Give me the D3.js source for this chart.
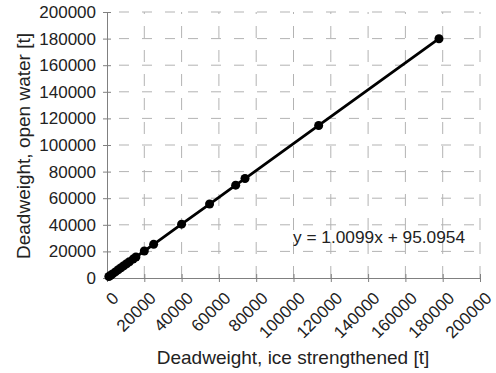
<!DOCTYPE html>
<html>
<head>
<meta charset="utf-8">
<script src="https://cdn.jsdelivr.net/npm/d3@7"></script>
<style>
  body { margin: 0; background: #fff; }
  text { font-family: "Liberation Sans", Arial, Helvetica, sans-serif; fill: #222; }
</style>
</head>
<body>
<div id="chart"></div>
<script>
'use strict';

// deadweight, ice strengthened [t]
var iceDwt = [1000, 2000, 3000, 4500, 6000, 7500, 9000, 10500, 12000, 14000, 15500,
              20000, 25000, 40000, 55000, 69000, 74000, 113500, 178000];
// deadweight, open water [t]
var openDwt = [1100, 2100, 3100, 4600, 6200, 7700, 9200, 10700, 12200, 14200, 15800,
               20300, 25300, 40500, 55600, 69800, 74800, 114700, 179900];

var xTicks = [0, 20000, 40000, 60000, 80000, 100000, 120000, 140000, 160000, 180000, 200000];
var yTicks = [0, 20000, 40000, 60000, 80000, 100000, 120000, 140000, 160000, 180000, 200000];
var equation = "y = 1.0099x + 95.0954";

var width = 496, height = 373;
var margin = {top: 12, right: 16, bottom: 95, left: 107};

var svg = d3.select("#chart").append("svg")
    .attr("width", width)
    .attr("height", height);

var x = d3.scaleLinear().domain([0, 200000]).range([margin.left, width - margin.right]);
var y = d3.scaleLinear().domain([0, 200000]).range([height - margin.bottom, margin.top]);

// dashed gridlines
svg.append("g").selectAll("line")
    .data(yTicks.slice(1))
  .enter().append("line")
    .attr("x1", x(0)).attr("x2", x(200000))
    .attr("y1", function(d) { return y(d); })
    .attr("y2", function(d) { return y(d); })
    .attr("stroke", "#b3b3b3")
    .attr("stroke-width", 1)
    .attr("stroke-dasharray", "10,13")
    .attr("stroke-dashoffset", -12);

svg.append("g").selectAll("line")
    .data(xTicks.slice(1))
  .enter().append("line")
    .attr("y1", y(0)).attr("y2", y(200000))
    .attr("x1", function(d) { return x(d); })
    .attr("x2", function(d) { return x(d); })
    .attr("stroke", "#b3b3b3")
    .attr("stroke-width", 1)
    .attr("stroke-dasharray", "12,12");

// axes
var xAxis = svg.append("g")
    .attr("transform", "translate(0," + y(0) + ")")
    .call(d3.axisBottom(x).tickValues(xTicks).tickSize(4).tickSizeOuter(0).tickFormat(d3.format("d")));
xAxis.selectAll("line").attr("y1", -4).attr("stroke", "#808080");
xAxis.select(".domain").attr("stroke", "#808080");
xAxis.selectAll("text")
    .style("font-size", "17px")
    .attr("text-anchor", "end")
    .attr("dy", "0.35em")
    .attr("y", 0)
    .attr("transform", "translate(8,17) rotate(-45)");

var yAxis = svg.append("g")
    .attr("transform", "translate(" + x(0) + ",0)")
    .call(d3.axisLeft(y).tickValues(yTicks).tickSize(4).tickSizeOuter(0).tickFormat(d3.format("d")));
yAxis.selectAll("line").attr("x1", 4).attr("stroke", "#808080");
yAxis.select(".domain").attr("stroke", "#808080");
yAxis.selectAll("text")
    .style("font-size", "17px")
    .attr("x", -11);
svg.selectAll(".tick text").attr("fill", "#222");

// series line + markers
var pts = iceDwt.map(function(d, i) { return [d, openDwt[i]]; });
var line = d3.line()
    .x(function(d) { return x(d[0]); })
    .y(function(d) { return y(d[1]); });

svg.append("path")
    .datum(pts)
    .attr("d", line)
    .attr("fill", "none")
    .attr("stroke", "#000")
    .attr("stroke-width", 2.8);

svg.append("g").selectAll("circle")
    .data(pts)
  .enter().append("circle")
    .attr("cx", function(d) { return x(d[0]); })
    .attr("cy", function(d) { return y(d[1]); })
    .attr("r", 4.5)
    .attr("fill", "#000");

// trendline equation
svg.append("text")
    .attr("x", 293)
    .attr("y", 243)
    .style("font-size", "17.3px")
    .text(equation);

// axis titles
svg.append("text")
    .attr("x", 293)
    .attr("y", 364)
    .attr("text-anchor", "middle")
    .style("font-size", "19px")
    .text("Deadweight, ice strengthened [t]");

svg.append("text")
    .attr("transform", "translate(30,146) rotate(-90)")
    .attr("text-anchor", "middle")
    .style("font-size", "19px")
    .text("Deadweight, open water [t]");
</script>
</body>
</html>
